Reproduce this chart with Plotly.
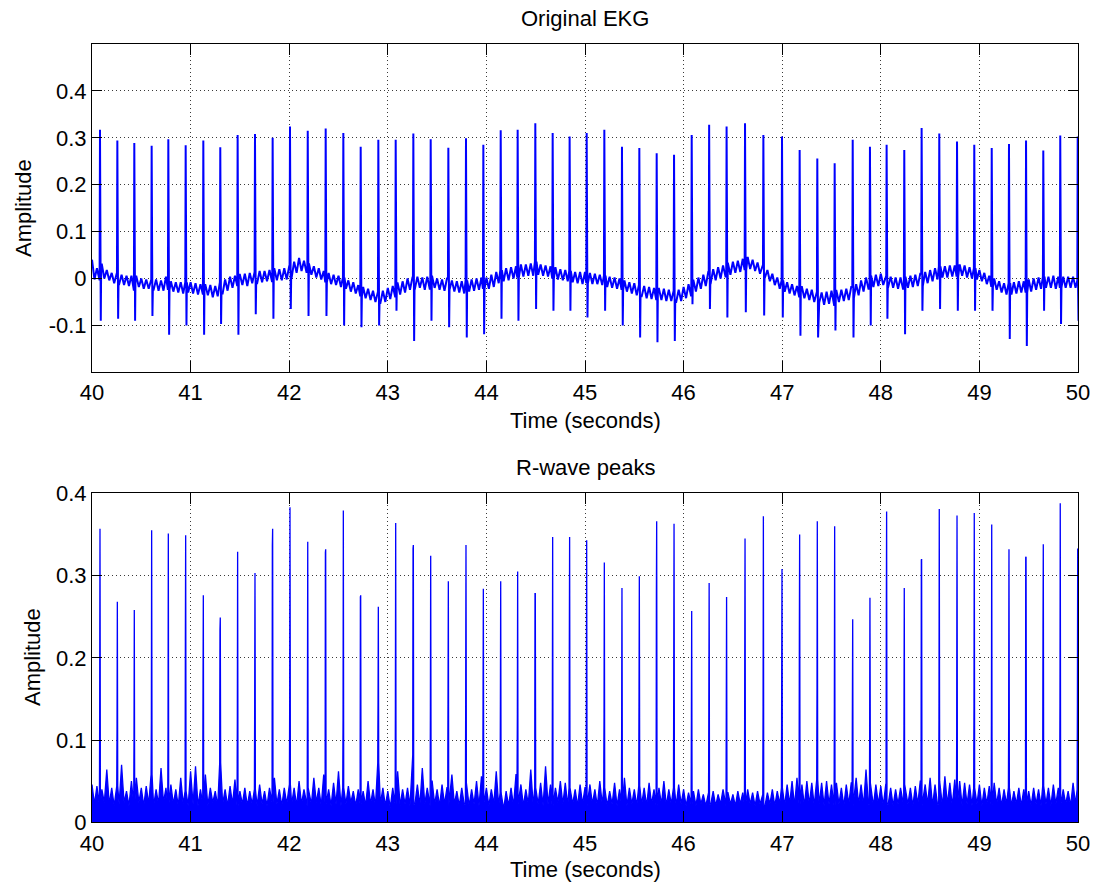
import plotly.graph_objects as go

# ---------------- data ----------------
# R-wave (beat) times in seconds
beat_t = [40.081, 40.257, 40.429, 40.605, 40.774, 40.950, 41.129, 41.301, 41.477, 41.653,
          41.832, 42.008, 42.188, 42.370, 42.549, 42.725, 42.904, 43.080, 43.259, 43.435,
          43.614, 43.793, 43.969, 44.145, 44.317, 44.496, 44.672, 44.844, 45.017, 45.196,
          45.375, 45.551, 45.727, 45.903, 46.082, 46.259, 46.436, 46.623, 46.809, 46.998,
          47.177, 47.356, 47.532, 47.715, 47.890, 48.059, 48.238, 48.414, 48.593, 48.773,
          48.948, 49.125, 49.300, 49.473, 49.648, 49.820, 49.997]

# Original EKG: R peak and S trough amplitudes
ekg_peak = [0.317, 0.294, 0.289, 0.283, 0.297, 0.284, 0.294, 0.280, 0.306, 0.308,
            0.300, 0.324, 0.315, 0.320, 0.310, 0.281, 0.296, 0.296, 0.309, 0.297,
            0.279, 0.299, 0.285, 0.316, 0.317, 0.331, 0.310, 0.303, 0.310, 0.317,
            0.281, 0.278, 0.267, 0.264, 0.306, 0.328, 0.324, 0.331, 0.306, 0.303,
            0.274, 0.256, 0.246, 0.296, 0.281, 0.285, 0.274, 0.321, 0.309, 0.292,
            0.285, 0.278, 0.287, 0.294, 0.273, 0.305, 0.303]
ekg_trough = [-0.090, -0.086, -0.090, -0.080, -0.120, -0.100, -0.120, -0.097, -0.120, -0.076,
              -0.086, -0.065, -0.080, -0.080, -0.100, -0.104, -0.100, -0.069, -0.133, -0.090,
              -0.104, -0.126, -0.119, -0.086, -0.090, -0.065, -0.069, -0.069, -0.083, -0.069,
              -0.100, -0.126, -0.136, -0.133, -0.055, -0.065, -0.083, -0.072, -0.079, -0.083,
              -0.122, -0.126, -0.111, -0.126, -0.100, -0.086, -0.119, -0.069, -0.065, -0.069,
              -0.069, -0.069, -0.129, -0.144, -0.069, -0.097, -0.090]

# R-wave peaks panel: peak and shoulder amplitudes
rw_peak = [0.357, 0.268, 0.258, 0.355, 0.351, 0.349, 0.276, 0.249, 0.329, 0.303,
           0.357, 0.383, 0.341, 0.332, 0.379, 0.276, 0.262, 0.364, 0.337, 0.324,
           0.293, 0.337, 0.284, 0.293, 0.305, 0.278, 0.347, 0.347, 0.343, 0.316,
           0.285, 0.299, 0.366, 0.363, 0.257, 0.291, 0.274, 0.345, 0.372, 0.308,
           0.350, 0.366, 0.360, 0.247, 0.273, 0.378, 0.285, 0.320, 0.381, 0.373,
           0.376, 0.362, 0.332, 0.323, 0.338, 0.388, 0.333]
rw_shoulder = [0.133, 0.120, 0.098, 0.125, 0.113, 0.220, 0.169, 0.234, 0.130, 0.145,
               0.336, 0.149, 0.143, 0.328, 0.124, 0.274, 0.149, 0.143, 0.333, 0.141,
               0.125, 0.145, 0.149, 0.149, 0.133, 0.278, 0.147, 0.210, 0.145, 0.133,
               0.125, 0.162, 0.276, 0.171, 0.127, 0.140, 0.137, 0.143, 0.141, 0.139,
               0.231, 0.165, 0.144, 0.144, 0.104, 0.248, 0.118, 0.319, 0.125, 0.116,
               0.139, 0.133, 0.125, 0.322, 0.236, 0.141, 0.144]

# Samples between beats, every 0.025 s from 40.000 to 50.000 (two lines per second)
ekg_base = [
    0.040, -0.002, 0.022, -0.004, 0.030, 0.000, 0.018, -0.004, 0.012, -0.010, 0.010, -0.012, 0.008, -0.014, 0.006, -0.016, 0.006, -0.026, 0.004, -0.018,
    0.000, -0.022, -0.002, -0.022, -0.002, -0.024, -0.002, -0.026, -0.004, -0.026, 0.004, -0.024, -0.006, -0.028, -0.008, -0.030, -0.008, -0.032, -0.008, -0.030,
    -0.008, -0.032, -0.010, -0.034, -0.012, -0.034, -0.014, -0.036, -0.014, -0.040, -0.016, -0.038, -0.008, -0.032, -0.002, -0.026, 0.004, -0.020, 0.006, -0.016,
    0.008, -0.014, 0.010, -0.016, 0.012, -0.010, 0.014, -0.010, 0.016, -0.008, 0.016, -0.006, 0.018, -0.006, 0.020, -0.004, 0.020, -0.004, 0.022, -0.002,
    0.026, 0.002, 0.036, 0.012, 0.044, 0.016, 0.038, 0.014, 0.032, 0.008, 0.026, 0.002, 0.022, -0.002, 0.016, -0.008, 0.012, -0.012, 0.008, -0.014,
    0.006, -0.018, 0.002, -0.022, -0.004, -0.028, -0.008, -0.032, -0.014, -0.038, -0.018, -0.042, -0.022, -0.046, -0.026, -0.050, -0.028, -0.052, -0.026, -0.050,
    -0.020, -0.044, -0.016, -0.040, -0.010, -0.034, -0.006, -0.030, 0.000, -0.024, 0.002, -0.022, 0.004, -0.020, 0.002, -0.024, 0.004, -0.022, 0.004, -0.020,
    0.000, -0.024, -0.002, -0.026, 0.000, -0.024, -0.004, -0.028, -0.006, -0.030, -0.006, -0.032, -0.004, -0.028, -0.002, -0.026, 0.000, -0.024, 0.002, -0.022,
    0.002, -0.022, 0.008, -0.018, 0.014, -0.010, 0.018, -0.006, 0.022, -0.004, 0.024, 0.000, 0.026, 0.002, 0.030, 0.004, 0.030, 0.006, 0.032, 0.006,
    0.036, 0.008, 0.030, 0.006, 0.028, 0.004, 0.026, 0.000, 0.024, -0.002, 0.020, -0.004, 0.018, -0.006, 0.016, -0.008, 0.014, -0.010, 0.014, -0.012,
    0.014, -0.010, 0.012, -0.012, 0.010, -0.012, 0.008, -0.014, 0.006, -0.018, 0.004, -0.020, 0.002, -0.022, 0.000, -0.024, -0.004, -0.028, -0.008, -0.032,
    -0.010, -0.036, -0.014, -0.038, -0.016, -0.042, -0.018, -0.044, -0.020, -0.046, -0.022, -0.046, -0.022, -0.048, -0.024, -0.048, -0.026, -0.050, -0.024, -0.048,
    -0.018, -0.042, -0.012, -0.036, -0.004, -0.028, 0.002, -0.022, 0.008, -0.016, 0.014, -0.010, 0.020, -0.004, 0.024, 0.000, 0.028, 0.004, 0.032, 0.008,
    0.036, 0.012, 0.038, 0.014, 0.042, 0.018, 0.046, 0.020, 0.040, 0.016, 0.034, 0.010, 0.026, 0.002, 0.018, -0.006, 0.010, -0.014, 0.002, -0.022,
    -0.004, -0.028, -0.008, -0.032, -0.012, -0.036, -0.016, -0.040, -0.018, -0.042, -0.022, -0.046, -0.024, -0.050, -0.028, -0.052, -0.030, -0.056, -0.028, -0.054,
    -0.026, -0.058, -0.026, -0.050, -0.024, -0.048, -0.022, -0.046, -0.018, -0.042, -0.012, -0.036, -0.004, -0.028, 0.002, -0.022, 0.006, -0.018, 0.008, -0.016,
    0.010, -0.014, 0.006, -0.018, 0.004, -0.020, 0.002, -0.022, 0.002, -0.022, 0.004, -0.020, 0.006, -0.018, 0.008, -0.016, 0.010, -0.016, 0.014, -0.010,
    0.018, -0.006, 0.022, -0.002, 0.026, 0.002, 0.026, 0.002, 0.028, 0.004, 0.028, 0.004, 0.030, 0.006, 0.028, 0.002, 0.024, 0.000, 0.022, -0.002,
    0.018, -0.006, 0.012, -0.012, 0.006, -0.018, 0.000, -0.024, -0.006, -0.030, -0.010, -0.034, -0.010, -0.034, -0.008, -0.032, -0.006, -0.030, -0.006, -0.030,
    -0.002, -0.028, 0.000, -0.024, 0.002, -0.022, 0.004, -0.020, 0.004, -0.020, 0.006, -0.022, 0.004, -0.020, 0.004, -0.020, 0.004, -0.020, 0.004, -0.020,
    -0.004,
]

rw_base = [
    0.046, 0.022, 0.044, 0.020, 0.040, 0.024, 0.064, 0.022, 0.042, 0.020, 0.044, 0.022, 0.070, 0.024, 0.038, 0.020, 0.050, 0.022, 0.054, 0.024,
    0.042, 0.020, 0.044, 0.022, 0.058, 0.020, 0.040, 0.022, 0.066, 0.024, 0.042, 0.020, 0.046, 0.022, 0.040, 0.020, 0.054, 0.022, 0.038, 0.020,
    0.062, 0.022, 0.068, 0.020, 0.040, 0.022, 0.058, 0.020, 0.042, 0.024, 0.038, 0.020, 0.072, 0.022, 0.040, 0.020, 0.044, 0.022, 0.052, 0.020,
    0.038, 0.022, 0.042, 0.020, 0.038, 0.022, 0.040, 0.020, 0.046, 0.022, 0.038, 0.020, 0.042, 0.024, 0.054, 0.022, 0.040, 0.020, 0.042, 0.022,
    0.046, 0.022, 0.042, 0.020, 0.050, 0.022, 0.040, 0.020, 0.042, 0.022, 0.054, 0.024, 0.042, 0.020, 0.058, 0.022, 0.040, 0.020, 0.048, 0.022,
    0.062, 0.020, 0.042, 0.022, 0.044, 0.024, 0.038, 0.020, 0.040, 0.022, 0.038, 0.020, 0.050, 0.022, 0.040, 0.020, 0.072, 0.022, 0.042, 0.020,
    0.038, 0.018, 0.042, 0.022, 0.062, 0.020, 0.040, 0.022, 0.042, 0.020, 0.082, 0.022, 0.046, 0.020, 0.066, 0.022, 0.042, 0.020, 0.050, 0.022,
    0.040, 0.020, 0.046, 0.022, 0.042, 0.020, 0.058, 0.022, 0.038, 0.020, 0.042, 0.022, 0.048, 0.020, 0.040, 0.022, 0.050, 0.020, 0.056, 0.022,
    0.042, 0.020, 0.040, 0.022, 0.062, 0.020, 0.036, 0.016, 0.038, 0.020, 0.042, 0.020, 0.058, 0.022, 0.046, 0.020, 0.040, 0.022, 0.064, 0.020,
    0.042, 0.022, 0.048, 0.020, 0.068, 0.022, 0.046, 0.020, 0.042, 0.024, 0.050, 0.022, 0.048, 0.020, 0.042, 0.022, 0.040, 0.020, 0.046, 0.022,
    0.042, 0.020, 0.046, 0.022, 0.040, 0.020, 0.050, 0.022, 0.042, 0.020, 0.038, 0.022, 0.048, 0.020, 0.040, 0.022, 0.054, 0.020, 0.042, 0.022,
    0.040, 0.020, 0.044, 0.022, 0.042, 0.020, 0.048, 0.022, 0.040, 0.020, 0.042, 0.022, 0.050, 0.020, 0.040, 0.022, 0.042, 0.020, 0.046, 0.022,
    0.040, 0.020, 0.036, 0.022, 0.038, 0.020, 0.040, 0.022, 0.034, 0.020, 0.036, 0.022, 0.038, 0.020, 0.034, 0.022, 0.040, 0.020, 0.036, 0.022,
    0.034, 0.020, 0.038, 0.022, 0.036, 0.020, 0.040, 0.022, 0.036, 0.020, 0.038, 0.022, 0.034, 0.020, 0.036, 0.022, 0.040, 0.020, 0.038, 0.022,
    0.042, 0.020, 0.046, 0.022, 0.050, 0.020, 0.054, 0.022, 0.046, 0.020, 0.050, 0.022, 0.048, 0.020, 0.052, 0.022, 0.048, 0.020, 0.050, 0.022,
    0.046, 0.020, 0.048, 0.022, 0.042, 0.020, 0.046, 0.022, 0.048, 0.020, 0.054, 0.022, 0.046, 0.020, 0.064, 0.022, 0.048, 0.020, 0.046, 0.022,
    0.044, 0.020, 0.046, 0.022, 0.042, 0.020, 0.040, 0.022, 0.042, 0.020, 0.046, 0.022, 0.042, 0.020, 0.044, 0.022, 0.050, 0.020, 0.046, 0.022,
    0.054, 0.020, 0.046, 0.022, 0.050, 0.020, 0.056, 0.022, 0.048, 0.020, 0.052, 0.022, 0.050, 0.020, 0.048, 0.022, 0.046, 0.020, 0.042, 0.022,
    0.046, 0.020, 0.042, 0.022, 0.044, 0.020, 0.048, 0.022, 0.042, 0.020, 0.040, 0.022, 0.042, 0.020, 0.038, 0.022, 0.042, 0.020, 0.040, 0.022,
    0.038, 0.020, 0.042, 0.022, 0.040, 0.020, 0.044, 0.022, 0.042, 0.020, 0.046, 0.022, 0.042, 0.020, 0.040, 0.022, 0.038, 0.020, 0.048, 0.022,
    0.040,
]

x_ticks = [40, 41, 42, 43, 44, 45, 46, 47, 48, 49, 50]
x_tick_text = ["40", "41", "42", "43", "44", "45", "46", "47", "48", "49", "50"]
top_y_ticks = [-0.1, 0.0, 0.1, 0.2, 0.3, 0.4]
top_y_text = ["-0.1", "0", "0.1", "0.2", "0.3", "0.4"]
bot_y_ticks = [0.0, 0.1, 0.2, 0.3, 0.4]
bot_y_text = ["0", "0.1", "0.2", "0.3", "0.4"]

# ---------------- assemble the sampled traces ----------------
SAMPLE_DT = 0.025
base_t = [round(40.0 + i * SAMPLE_DT, 4) for i in range(len(ekg_base))]


def nearest_base(vals, t):
    idx = int(round((t - 40.0) / SAMPLE_DT))
    idx = max(0, min(len(vals) - 1, idx))
    return vals[idx]


def assemble(base_vals, beat_points):
    pts = []
    for t, v in zip(base_t, base_vals):
        inside = any(bt - 0.006 <= t <= bt + 0.012 for bt in beat_t)
        if not inside:
            pts.append((t, v))
    pts.extend(beat_points)
    pts.sort(key=lambda p: p[0])
    return [p[0] for p in pts], [p[1] for p in pts]


ekg_events = []
for bt, pk, tr in zip(beat_t, ekg_peak, ekg_trough):
    ekg_events.append((bt - 0.004, nearest_base(ekg_base, bt - 0.004)))
    ekg_events.append((bt, pk))
    ekg_events.append((bt + 0.008, tr))
    ekg_events.append((min(bt + 0.012, 50.0), nearest_base(ekg_base, bt + 0.012)))

rw_events = []
for bt, pk, sh in zip(beat_t, rw_peak, rw_shoulder):
    rw_events.append((bt - 0.006, nearest_base(rw_base, bt - 0.006)))
    rw_events.append((bt - 0.003, sh))
    rw_events.append((bt, pk))
    rw_events.append((min(bt + 0.004, 50.0), nearest_base(rw_base, bt + 0.004)))

ekg_x, ekg_y = assemble(ekg_base, ekg_events)
rw_x, rw_y = assemble(rw_base, rw_events)

BLUE = "#0000FF"
FONT = "Liberation Sans, Arial, Helvetica, sans-serif"

fig = go.Figure()
fig.add_trace(go.Scatter(x=ekg_x, y=ekg_y, mode="lines",
                         line=dict(color=BLUE, width=2), xaxis="x", yaxis="y",
                         showlegend=False, hoverinfo="skip"))
fig.add_trace(go.Scatter(x=rw_x, y=rw_y, mode="lines", fill="tozeroy",
                         fillcolor=BLUE, line=dict(color=BLUE, width=1.3),
                         xaxis="x2", yaxis="y2", showlegend=False, hoverinfo="skip"))

W, H = 1097, 887
L, R = 92, 1078
top_t, top_b = 44, 372.3
bot_t, bot_b = 493.3, 822.3

axis_common = dict(
    showline=True, linecolor="black", linewidth=1, mirror="ticks", automargin=False,
    ticks="inside", tickcolor="black", tickwidth=1,
    showgrid=True, gridcolor="#3a3a3a", gridwidth=1, griddash="1px,3px",
    zeroline=False, tickfont=dict(family=FONT, size=22, color="black"),
)

fig.update_layout(
    width=W, height=H,
    margin=dict(l=0, r=0, t=0, b=0, pad=0),
    paper_bgcolor="white", plot_bgcolor="white",
    xaxis=dict(domain=[L / W, R / W], range=[40, 50], tickvals=x_ticks, ticktext=x_tick_text,
               anchor="y", ticklen=11, ticklabelstandoff=0, **axis_common),
    yaxis=dict(domain=[1 - top_b / H, 1 - top_t / H], range=[-0.2, 0.5], tickvals=top_y_ticks,
               ticktext=top_y_text, anchor="x", ticklen=10, ticklabelstandoff=0, **axis_common),
    xaxis2=dict(domain=[L / W, R / W], range=[40, 50], tickvals=x_ticks, ticktext=x_tick_text,
                anchor="y2", ticklen=11, ticklabelstandoff=1, **axis_common),
    yaxis2=dict(domain=[1 - bot_b / H, 1 - bot_t / H], range=[0, 0.4], tickvals=bot_y_ticks,
                ticktext=bot_y_text, anchor="x2", ticklen=10, ticklabelstandoff=0, **axis_common),
)

cx = (L + R) / 2 / W
ann_font = dict(family=FONT, size=22, color="black")
annotations = [
    dict(text="Original EKG", x=cx, y=1 - 18 / H),
    dict(text="Time (seconds)", x=cx, y=1 - 420 / H),
    dict(text="R-wave peaks", x=cx, y=1 - 468 / H),
    dict(text="Time (seconds)", x=cx, y=1 - 869 / H),
]
for a in annotations:
    fig.add_annotation(xref="paper", yref="paper", xanchor="center", yanchor="middle",
                       showarrow=False, font=ann_font, **a)
fig.add_annotation(text="Amplitude", xref="paper", yref="paper", x=24 / W, y=1 - 208 / H,
                   xanchor="center", yanchor="middle", textangle=-90, showarrow=False, font=ann_font)
fig.add_annotation(text="Amplitude", xref="paper", yref="paper", x=32 / W, y=1 - 657 / H,
                   xanchor="center", yanchor="middle", textangle=-90, showarrow=False, font=ann_font)

fig.write_html("out.html")
